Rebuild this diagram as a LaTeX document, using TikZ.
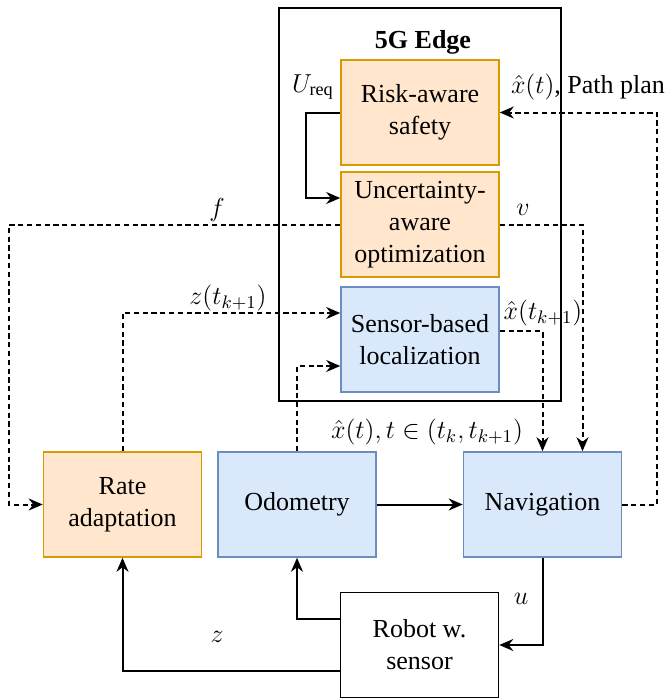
\RequirePackage{fix-cm}
\documentclass[tikz,border=0pt]{standalone}
\usepackage{fontspec}
\setmainfont{LiberationSerif}[Extension=.ttf,UprightFont=*-Regular,BoldFont=*-Bold,ItalicFont=*-Italic,BoldItalicFont=*-BoldItalic]
\usetikzlibrary{arrows.meta}
\definecolor{orfill}{HTML}{FFE6CC}
\definecolor{ordraw}{HTML}{D79B00}
\definecolor{blfill}{HTML}{DAE8FC}
\definecolor{bldraw}{HTML}{6C8EBF}
\begin{document}
\begin{tikzpicture}[x=0.5pt,y=-0.5pt,
  font=\fontsize{13}{16}\selectfont,
  box/.style={rectangle,minimum width=79pt,minimum height=52.5pt,inner sep=0pt,align=center,line width=0.8pt},
  orbox/.style={box,fill=orfill,draw=ordraw},
  blbox/.style={box,fill=blfill,draw=bldraw},
  whbox/.style={box,draw=black,fill=white},
  arr/.style={line width=1pt,-{Stealth[length=7pt,width=6pt]}},
  dsh/.style={arr,dash pattern=on 2.6pt off 1.8pt},
  lbl/.style={inner sep=0pt}]
\useasboundingbox (0,0) rectangle (671,698);
\node[draw,line width=1pt,minimum width=141pt,minimum height=196.5pt,inner sep=0pt] (edge) at (420,204.5) {};
\node[lbl,font=\fontsize{13}{16}\selectfont\bfseries] (title) at (423,42) {5G Edge};
\node[orbox] (risk) at (420,112.5) {Risk-aware\\safety};
\node[orbox] (unc) at (420,224.5) {Uncertainty-\\aware\\optimization};
\node[blbox] (sens) at (420,339.5) {Sensor-based\\localization};
\node[orbox] (rate) at (122.5,504.5) {Rate\\adaptation};
\node[blbox] (odo) at (297,504.5) {Odometry};
\node[blbox] (nav) at (542.5,504.5) {Navigation};
\node[whbox] (robot) at (419.5,645) {Robot w.\\sensor};
% connectors
\draw[arr] (risk.west) -- (306,112.5) |- ([yshift=13.25pt]unc.west);
\node[lbl] (ureq) at (313,87) {$U_{\mathrm{req}}$};
\draw[dsh] (unc.west) -- (9,224.5) |- (rate.west);
\node[lbl] (flbl) at (217,210) {$f$};
\draw[dsh] (unc.east) -| ([xshift=20pt]nav.north);
\node[lbl] (vlbl) at (523,210) {$v$};
\draw[dsh] (nav.east) -- (657,504.5) |- (risk.east);
\node[lbl] (pplbl) at (588,87) {$\hat{x}(t)$, Path plan};
\draw[dsh] (rate.north) |- ([yshift=13.25pt]sens.west);
\node[lbl] (ztk) at (228,298) {$z(t_{k+1})$};
\draw[dsh] (odo.north) |- ([yshift=-13.25pt]sens.west);
\node[lbl] (xtt) at (427,432) {$\hat{x}(t), t \in (t_k, t_{k+1})$};
\draw[dsh] ([yshift=4.25pt]sens.east) -| (nav.north);
\node[lbl] (xtk) at (543,313) {$\hat{x}(t_{k+1})$};
\draw[arr] (odo.east) -- (nav.west);
\draw[arr] (nav.south) |- (robot.east);
\node[lbl] (ulbl) at (521,599) {$u$};
\draw[arr] ([yshift=13pt]robot.west) -| (odo.south);
\draw[arr] ([yshift=-13pt]robot.west) -| (rate.south);
\node[lbl] (zlbl) at (217,637) {$z$};
\end{tikzpicture}
\end{document}
